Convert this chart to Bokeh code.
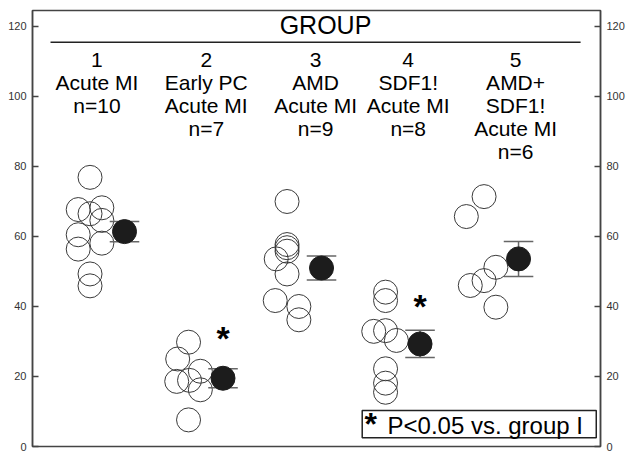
from bokeh.plotting import figure
from bokeh.models import Range1d, LinearAxis, FixedTicker, Label
from bokeh.core.properties import value
from bokeh.embed import file_html
from bokeh.resources import INLINE

# ---------------- data ----------------
groups = [1, 2, 3, 4, 5]
g1_vals = [76.9, 67.7, 68.2, 66.5, 64.6, 60.5, 58.1, 56.4, 49.3, 45.9]
g1_jit = [0.0, -0.12, 0.12, 0.0, 0.12, -0.12, 0.12, -0.12, 0.0, 0.0]
g2_vals = [29.8, 25.0, 21.5, 18.6, 18.9, 16.2, 7.6]
g2_jit = [0.0, -0.11, 0.12, -0.12, 0.01, 0.12, 0.0]
g3_vals = [70.0, 57.7, 56.8, 55.8, 53.6, 49.3, 41.7, 40.0, 36.2]
g3_jit = [0.0, 0.0, 0.0, 0.0, -0.11, 0.0, -0.12, 0.12, 0.12]
g4_vals = [44.1, 41.7, 32.9, 33.1, 30.3, 22.2, 18.1, 15.5]
g4_jit = [0.0, 0.0, -0.12, 0.0, 0.11, 0.0, 0.0, 0.0]
g5_vals = [71.4, 65.7, 51.2, 47.4, 46.0, 39.8]
g5_jit = [0.0, -0.18, 0.12, 0.0, -0.14, 0.12]

means = [61.4, 19.5, 51.0, 29.3, 53.6]
sems = [2.9, 2.7, 3.4, 3.9, 5.0]

header_lines = [
    ["1", "Acute MI", "n=10"],
    ["2", "Early PC", "Acute MI", "n=7"],
    ["3", "AMD", "Acute MI", "n=9"],
    ["4", "SDF1!", "Acute MI", "n=8"],
    ["5", "AMD+", "SDF1!", "Acute MI", "n=6"],
]
header_x = [0.92, 2.03, 3.14, 4.08, 5.17]
star_groups = [2, 4]
star_y = [32.4, 41.7]
y_ticks = [0, 20, 40, 60, 80, 100, 120]

FONT = "Liberation Sans"
PX_PER_Y = 3.5  # pixels per y unit


def py_to_y(pix):
    # page pixel row (frame bottom at 446) -> data y
    return (446 - pix) / PX_PER_Y


# ---------------- figure ----------------
p = figure(frame_width=568, frame_height=436,
           x_range=Range1d(0.266, 6.032), y_range=Range1d(0, 124.57),
           output_backend="svg", toolbar_location=None,
           x_axis_location=None,
           min_border_left=32, min_border_right=30,
           min_border_top=10, min_border_bottom=12)
p.xgrid.visible = False
p.ygrid.visible = False
p.outline_line_color = "#444444"
p.outline_line_width = 1.5
p.background_fill_color = "white"
p.border_fill_color = "white"

p.add_layout(LinearAxis(), "right")
for ax in p.yaxis:
    ax.ticker = FixedTicker(ticks=y_ticks)
    ax.major_tick_in = 6
    ax.major_tick_out = 0
    ax.minor_tick_line_color = None
    ax.axis_line_color = "#444444"
    ax.axis_line_width = 1.5
    ax.major_tick_line_color = "#444444"
    ax.major_tick_line_width = 1.5
    ax.major_label_text_font = FONT
    ax.major_label_text_font_size = "11px"
    ax.major_label_text_color = "#333333"
    ax.major_label_standoff = 6

# ---------------- individual points ----------------
all_vals = [g1_vals, g2_vals, g3_vals, g4_vals, g5_vals]
all_jit = [g1_jit, g2_jit, g3_jit, g4_jit, g5_jit]
px, py = [], []
for g, vals, jit in zip(groups, all_vals, all_jit):
    for v, j in zip(vals, jit):
        px.append(g - 0.15 + j)
        py.append(v)
p.scatter(px, py, marker="circle", size=24, fill_alpha=0,
          line_color="#3a3a3a", line_width=1)

# ---------------- mean +/- error ----------------
mx = [g + 0.2 for g in groups]
lo = [m - s for m, s in zip(means, sems)]
hi = [m + s for m, s in zip(means, sems)]
p.segment(x0=mx, y0=lo, x1=mx, y1=hi, line_color="#666666", line_width=1.5)
cap = 0.15
p.segment(x0=[x - cap for x in mx], y0=hi, x1=[x + cap for x in mx], y1=hi,
          line_color="#666666", line_width=1.5)
p.segment(x0=[x - cap for x in mx], y0=lo, x1=[x + cap for x in mx], y1=lo,
          line_color="#666666", line_width=1.5)
p.scatter(mx, means, marker="circle", size=24, fill_color="#1c1c1c",
          line_color="#1c1c1c", line_width=1)

# significance stars
sx = [g + 0.2 for g in star_groups]
p.text(x=sx, y=star_y, text=["*"] * len(sx), text_font=value(FONT),
       text_font_size="34px", text_font_style="bold", text_align="center",
       text_baseline="alphabetic", y_offset=5.3, text_color="black")

# ---------------- header ----------------
p.add_layout(Label(x=3.24, y=py_to_y(25), text="GROUP",
                   text_font=FONT, text_font_size="25px", text_align="center",
                   text_baseline="alphabetic", text_color="black"))
p.segment(x0=[0.449], y0=[py_to_y(41.7)], x1=[5.83], y1=[py_to_y(41.7)],
          line_color="#222222", line_width=1.5)
hx, hy, ht = [], [], []
for x, lines in zip(header_x, header_lines):
    for i, t in enumerate(lines):
        hx.append(x)
        hy.append(py_to_y(59.3 + 23 * i))
        ht.append(t)
p.text(x=hx, y=hy, text=ht, text_font=value(FONT), text_font_size="21px",
       text_align="center", text_baseline="alphabetic", text_color="black")

# ---------------- legend box ----------------
p.quad(left=[3.613], right=[5.989], bottom=[py_to_y(437.3)], top=[py_to_y(410)],
       fill_color="white", line_color="#222222", line_width=1.5)
p.add_layout(Label(x=3.70, y=py_to_y(423.6), text="*",
                   text_font=FONT, text_font_size="32px", text_font_style="bold",
                   text_align="center", text_baseline="alphabetic",
                   text_color="black"))
p.add_layout(Label(x=3.87, y=py_to_y(425.5), text="P<0.05 vs. group I",
                   text_font=FONT, text_font_size="24px", text_align="left",
                   text_baseline="alphabetic", text_color="black"))

open("out.html", "w").write(file_html(p, INLINE))
